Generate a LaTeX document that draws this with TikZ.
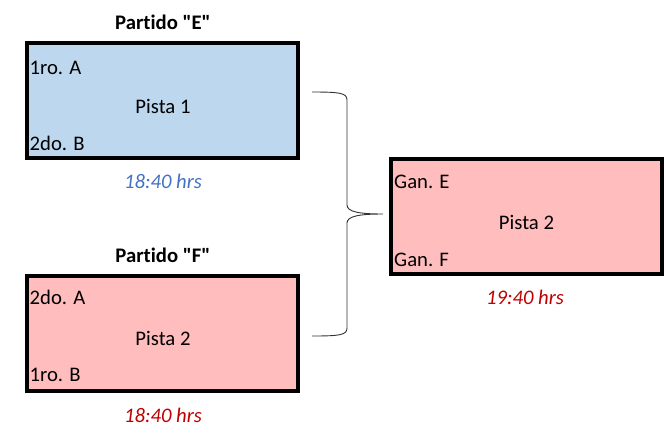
\documentclass[tikz,border=0pt]{standalone}
\usepackage{fontspec}
\setmainfont{Carlito}[Ligatures={TeXOff,NoCommon}]
\definecolor{pistablue}{HTML}{BDD7EE}
\definecolor{pistared}{HTML}{FFBDBD}
\definecolor{horablue}{HTML}{4472C4}
\definecolor{horared}{HTML}{C00000}
\begin{document}
\begin{tikzpicture}[x=1pt,y=-1pt,
        font=\fontsize{20.7}{24}\selectfont,
        partido/.style={draw=black,line width=4pt,minimum width=271pt,
                minimum height=115pt,inner sep=0pt},
        llave/.style={draw=black!80,line width=0.9pt}]
    \useasboundingbox (0,0) rectangle (666,432);

    % boxes
    \node[partido,fill=pistablue] (boxE) at (162.75,100.5) {};
    \node[partido,fill=pistared] (boxF) at (162.75,333) {};
    \node[partido,fill=pistared] (boxG) at (526.5,216.5) {};

    \begin{scope}[every node/.style={inner sep=0pt,anchor=base}]
        \node (titE) at (163,29.5) [font=\fontsize{20.7}{24}\selectfont\bfseries]{Partido "E"};
        \node (e1) at (29.5,74.5) [anchor=base west]{1ro. A};
        \node (pistaE) at (163,113.3) {Pista 1};
        \node (e2) at (29.5,150) [anchor=base west]{2do. B};
        \node (horaE) at (163,188.3) [font=\fontsize{20.7}{24}\selectfont\itshape,text=horablue]{18:40 hrs};

        \node (titF) at (163,262.3) [font=\fontsize{20.7}{24}\selectfont\bfseries]{Partido "F"};
        \node (f1) at (29.5,304) [anchor=base west]{2do. A};
        \node (pistaF) at (163,345) {Pista 2};
        \node (f2) at (29.5,381.7) [anchor=base west]{1ro. B};
        \node (horaF) at (163,422.7) [font=\fontsize{20.7}{24}\selectfont\itshape,text=horared]{18:40 hrs};

        \node (g1) at (394,188.3) [anchor=base west]{Gan. E};
        \node (pistaG) at (526.5,229) {Pista 2};
        \node (g2) at (394,266) [anchor=base west]{Gan. F};
        \node (horaG) at (525,304.3) [font=\fontsize{20.7}{24}\selectfont\itshape,text=horared]{19:40 hrs};
    \end{scope}

    % brace
    \coordinate (braceE) at (312,92);
    \coordinate (braceF) at (312,336);
    \coordinate (braceTip) at (383,214);
    \path[llave] (braceE) .. controls (340,92) and (347,93) .. (347,100)
        -- (347,205) .. controls (347,212) and (360,214) .. (braceTip)
        .. controls (360,214) and (347,216) .. (347,223)
        -- (347,328) .. controls (347,335) and (340,336) .. (braceF);
\end{tikzpicture}
\end{document}
